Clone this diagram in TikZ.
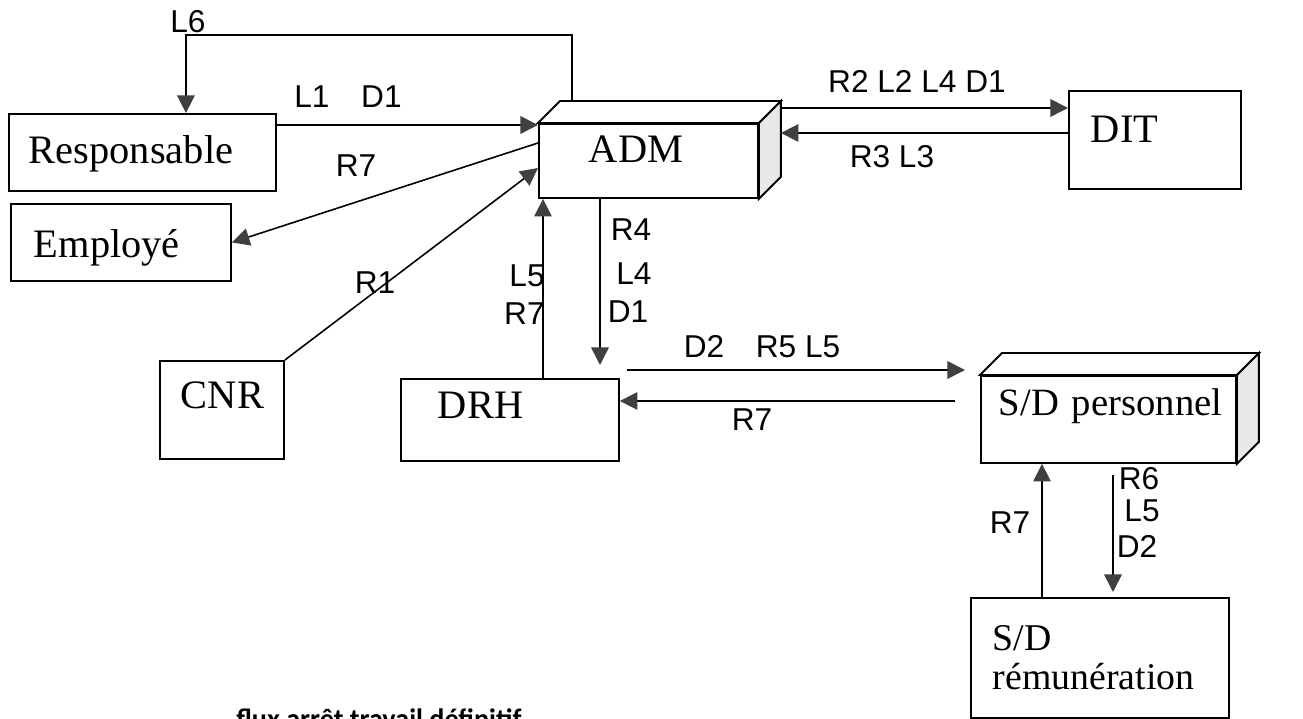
\documentclass[tikz,border=0pt]{standalone}
\usepackage{fontspec}
\setmainfont{Liberation Serif}
\newfontfamily\lblfont{Liberation Sans}
\newfontfamily\capfont{Carlito}
\usetikzlibrary{arrows.meta,positioning,calc}

\begin{document}
\begin{tikzpicture}[x=0.02cm, y=-0.02cm,
        box/.style={rectangle, draw, line width=1.1pt, anchor=north west, align=left, inner ysep=0pt, font=\fontsize{23}{22}\selectfont},
        face/.style={draw, line width=1.1pt, fill=white},
        side/.style={draw, line width=1.1pt, fill=gray!18},
        lbl/.style={inner sep=0pt, font=\lblfont\fontsize{18}{20}\selectfont},
        arrow/.style={-{Triangle[length=10pt, width=10pt, color=black!75]}, line width=0.9pt}]

        \fill[white] (0,0) rectangle (1303,719);
        \useasboundingbox (0,0) rectangle (1303,719);

        % Boxes
        \node[box, text width=4.54cm, inner xsep=0.4cm, text height=1.0cm, text depth=0.54cm] (resp) at (8,113) {\mbox{Responsable}};
        \node[box, text width=3.48cm, inner xsep=0.46cm, text height=1.08cm, text depth=0.46cm] (emp) at (10,203) {\mbox{Employé}};
        \node[box, text width=1.64cm, inner xsep=0.42cm, text height=0.96cm, text depth=1.0cm] (cnr) at (159,360) {\mbox{CNR}};
        \node[box, text width=2.38cm, inner xsep=1.0cm, text height=0.78cm, text depth=0.7cm] (adm) at (538,123) {\mbox{ADM}};
        \node[box, text width=2.56cm, inner xsep=0.44cm, text height=1.04cm, text depth=0.92cm] (dit) at (1068,90) {\mbox{DIT}};
        \node[box, text width=2.88cm, inner xsep=0.74cm, text height=0.8cm, text depth=0.84cm] (drh) at (400,378) {\mbox{DRH}};
        \node[box, text width=4.38cm, inner xsep=0.36cm, text height=0.8cm, text depth=0.94cm, font=\fontsize{22}{22}\selectfont] (sdp) at (980,375) {\mbox{S/D personnel}};
        \node[box, text width=4.28cm, inner xsep=0.44cm, minimum height=2.4cm, font=\fontsize{21.5}{22}\selectfont] (sdr) at (970,597) {S/D\\\mbox{rémunération}};

        % 3D faces
        \foreach \n in {adm,sdp} {
            \draw[face] (\n.north west) -- ++(22,-22) -- ($(\n.north east)+(22,-22)$) -- (\n.north east) -- cycle;
            \draw[side] (\n.north east) -- ($(\n.north east)+(22,-22)$) -- ($(\n.south east)+(22,-22)$) -- (\n.south east) -- cycle;
        }
        \coordinate (admtop) at ($(adm.north west)+(34,-22)$);
        \coordinate (admback) at ($(adm.east)+(22,-22)$);

        % Paths
        \draw[arrow] (admtop) -- ++(0,-66) -| ([xshift=0.87cm]resp.north);
        \draw[arrow] (resp.east |- 0,125) -- (adm.west |- 0,125);
        \draw[arrow] (adm.west |- 0,143) -- (emp.east);
        \draw[arrow] (cnr.north east) -- (adm.west |- 0,168);
        \draw[arrow] (admback |- 0,108) -- (dit.west |- 0,108);
        \draw[arrow] (dit.west |- 0,133) -- (admback |- 0,133);
        \draw[arrow, shorten >=0.26cm] (adm.south -| 600,0) -- (drh.north -| 600,0);
        \draw[arrow] (drh.north -| 543,0) -- (adm.south -| 543,0);
        \draw[arrow, shorten <=0.14cm, shorten >=0.3cm] (drh.east |- 0,370) -- (sdp.west |- 0,370);
        \draw[arrow, shorten <=0.5cm] (sdp.west |- 0,401) -- (drh.east |- 0,401);
        \draw[arrow, shorten <=0.22cm, shorten >=0.1cm] (sdp.south -| 1113,0) -- (sdr.north -| 1113,0);
        \draw[arrow] (sdr.north -| 1042,0) -- (sdp.south -| 1042,0);

        % Labels
        \node[lbl] (tL6) at (188,22) {L6};
        \node[lbl] (tL1) at (348,97) {L1\quad D1};
        \node[lbl] (tR7emp) at (356,166) {R7};
        \node[lbl] (tR1) at (375,283) {R1};
        \node[lbl] (tR2) at (917,81) {R2 L2 L4 D1};
        \node[lbl] (tR3) at (892,157) {R3 L3};
        \node[lbl] (tR4) at (631,230) {R4};
        \node[lbl] (tL4) at (634,274) {L4};
        \node[lbl] (tD1) at (628,312) {D1};
        \node[lbl, anchor=east] (tL5) at (545,276) {L5};
        \node[lbl, anchor=east] (tR7drh) at (545,314) {R7};
        \node[lbl] (tD2) at (762,347) {D2\quad R5 L5};
        \node[lbl] (tR7sdp) at (752,420) {R7};
        \node[lbl] (tR6) at (1139,479) {R6};
        \node[lbl] (tL5sdr) at (1142,511) {L5};
        \node[lbl] (tD2sdr) at (1137,546) {D2};
        \node[lbl] (tR7sdr) at (1010,523) {R7};

        % Caption (cut by the page edge)
        \node[anchor=base west, inner sep=0pt, font=\capfont\bfseries\fontsize{16}{18}\selectfont] (caption) at (236,728) {flux arrêt travail définitif};

    \end{tikzpicture}
\end{document}
